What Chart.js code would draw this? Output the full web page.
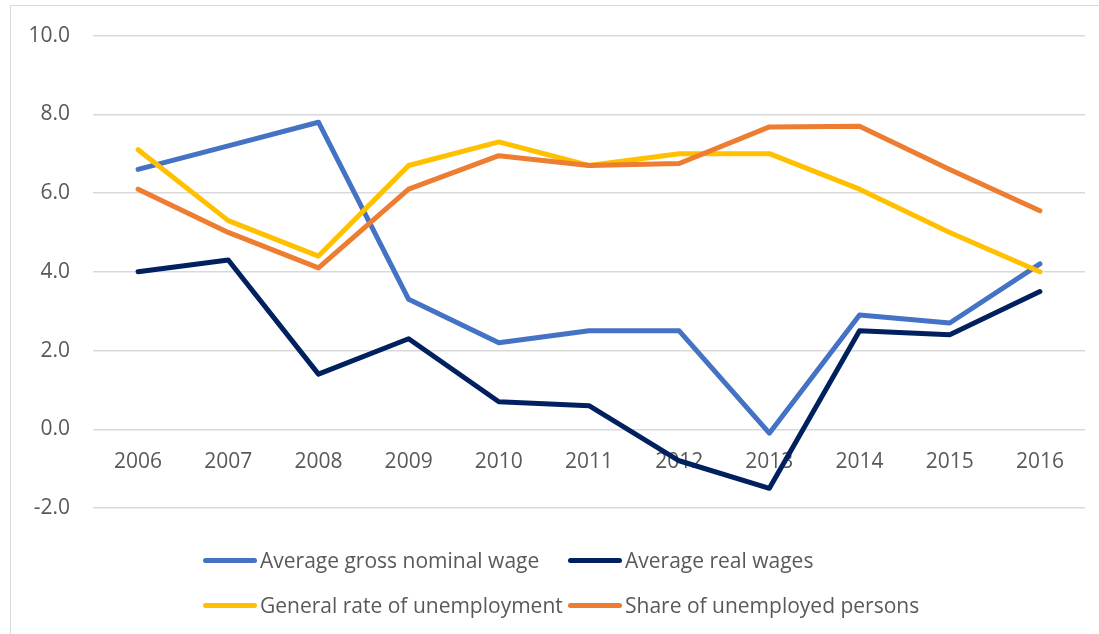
<!DOCTYPE html>
<html>
<head>
<meta charset="utf-8">
<script src="https://cdn.jsdelivr.net/npm/chart.js@4/dist/chart.umd.min.js"></script>
<style>
  html, body { margin: 0; padding: 0; background: #ffffff; overflow: hidden; }
  #wrap { position: relative; width: 1099px; height: 634px; }
  #frame { position: absolute; left: 10px; top: 5px; width: 1200px; height: 700px; border: 1px solid #d9d9d9; box-sizing: border-box; pointer-events: none; }
  canvas { position: absolute; left: 0; top: 0; }
  .leg { position: absolute; height: 30px; display: flex; align-items: center; font-family: "Open Sans", sans-serif; font-size: 21px; color: #595959; white-space: nowrap; }
  .leg span.sw { display: inline-block; width: 54px; height: 5px; border-radius: 3px; margin-right: 3px; }
</style>
</head>
<body>
<div id="wrap">
  <div id="frame"></div>
  <canvas id="c" width="1099" height="634"></canvas>
  <div id="legend"></div>
</div>
<script>
const categories = ["2006","2007","2008","2009","2010","2011","2012","2013","2014","2015","2016"];
const nominalWage = [6.6, 7.2, 7.8, 3.3, 2.2, 2.5, 2.5, -0.1, 2.9, 2.7, 4.2];
const realWages = [4.0, 4.3, 1.4, 2.3, 0.7, 0.6, -0.8, -1.5, 2.5, 2.4, 3.5];
const unemploymentRate = [7.1, 5.3, 4.4, 6.7, 7.3, 6.7, 7.0, 7.0, 6.1, 5.0, 4.0];
const unemployedShare = [6.1, 5.0, 4.1, 6.1, 6.95, 6.7, 6.75, 7.68, 7.7, 6.6, 5.55];
const seriesNames = ["Average gross nominal wage", "Average real wages", "General rate of unemployment", "Share of unemployed persons"];
const seriesColors = ["#4472C4", "#002060", "#FFC000", "#ED7D31"];
const yMin = -2, yMax = 10, yStep = 2;

const seriesData = [nominalWage, realWages, unemploymentRate, unemployedShare];
const datasets = seriesData.map((d, i) => ({
  label: seriesNames[i],
  data: d,
  borderColor: seriesColors[i],
  backgroundColor: seriesColors[i],
  borderWidth: 5,
  borderCapStyle: 'round',
  borderJoinStyle: 'round',
  pointRadius: 0,
  pointHoverRadius: 0,
  tension: 0,
  fill: false,
  order: seriesData.length - i
}));

new Chart(document.getElementById('c'), {
  type: 'line',
  data: { labels: categories, datasets: datasets },
  options: {
    responsive: false,
    animation: false,
    devicePixelRatio: 1,
    layout: { padding: { top: 34, right: 14, bottom: 126, left: 0 } },
    plugins: { legend: { display: false }, tooltip: { enabled: false }, title: { display: false } },
    scales: {
      x: {
        type: 'category',
        position: { y: 0 },
        offset: true,
        grid: { display: false, drawTicks: false },
        border: { display: false },
        ticks: { color: '#595959', font: { family: 'Open Sans', size: 21 }, padding: 20, maxRotation: 0, autoSkip: false }
      },
      y: {
        min: yMin, max: yMax,
        grid: { color: '#d9d9d9', lineWidth: 1.5, drawTicks: false },
        border: { display: false },
        ticks: { stepSize: yStep, color: '#595959', font: { family: 'Open Sans', size: 21 }, padding: 23,
          callback: v => Number(v).toFixed(1) },
        afterFit: s => { s.width = 93; }
      }
    }
  }
});

// HTML legend, 2 x 2
const legPos = [[203, 560], [568, 560], [203, 605], [568, 605]];
const legend = document.getElementById('legend');
seriesNames.forEach((n, i) => {
  const d = document.createElement('div');
  d.className = 'leg';
  d.style.left = legPos[i][0] + 'px';
  d.style.top = (legPos[i][1] - 15) + 'px';
  d.innerHTML = '<span class="sw" style="background:' + seriesColors[i] + '"></span>' + n;
  legend.appendChild(d);
});
</script>
</body>
</html>
